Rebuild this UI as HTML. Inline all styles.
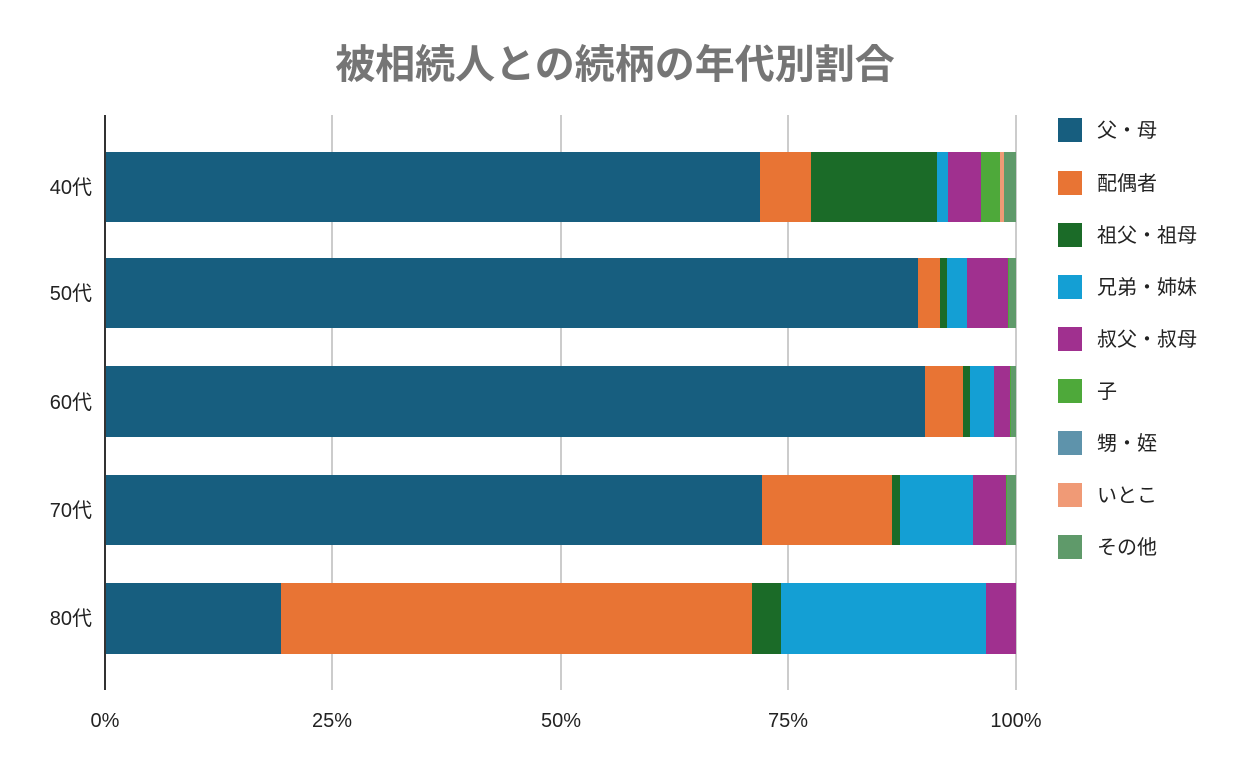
<!DOCTYPE html>
<html><head><meta charset="utf-8"><style>
body{margin:0;background:#fff;}
svg text{font-family:"Liberation Sans","Noto Sans CJK JP",sans-serif;}
</style></head><body>
<svg width="1250" height="773" xmlns="http://www.w3.org/2000/svg">
<rect width="1250" height="773" fill="#fff"/>
<text x="615" y="78" text-anchor="middle" font-size="40" font-weight="bold" fill="#757575">被相続人との続柄の年代別割合</text>
<g stroke="#cccccc" stroke-width="2">
<line x1="332" y1="115" x2="332" y2="690"/><line x1="561" y1="115" x2="561" y2="690"/>
<line x1="788" y1="115" x2="788" y2="690"/><line x1="1016" y1="115" x2="1016" y2="690"/>
</g>
<g id="bars">
<rect x="105" y="152" width="655" height="70" fill="#175e7f"/>
<rect x="760" y="152" width="51" height="70" fill="#e87434"/>
<rect x="811" y="152" width="126" height="70" fill="#1b6b28"/>
<rect x="937" y="152" width="11" height="70" fill="#149fd4"/>
<rect x="948" y="152" width="33" height="70" fill="#a0308f"/>
<rect x="981" y="152" width="19" height="70" fill="#4ea93a"/>
<rect x="1000" y="152" width="4" height="70" fill="#f09a76"/>
<rect x="1004" y="152" width="12" height="70" fill="#5f9a6a"/>
<rect x="105" y="258" width="813" height="70" fill="#175e7f"/>
<rect x="918" y="258" width="22" height="70" fill="#e87434"/>
<rect x="940" y="258" width="7" height="70" fill="#1b6b28"/>
<rect x="947" y="258" width="20" height="70" fill="#149fd4"/>
<rect x="967" y="258" width="41" height="70" fill="#a0308f"/>
<rect x="1008" y="258" width="1" height="70" fill="#4ea93a"/>
<rect x="1009" y="258" width="7" height="70" fill="#5f9a6a"/>
<rect x="105" y="366" width="820" height="71" fill="#175e7f"/>
<rect x="925" y="366" width="38" height="71" fill="#e87434"/>
<rect x="963" y="366" width="7" height="71" fill="#1b6b28"/>
<rect x="970" y="366" width="24" height="71" fill="#149fd4"/>
<rect x="994" y="366" width="16" height="71" fill="#a0308f"/>
<rect x="1010" y="366" width="1" height="71" fill="#4ea93a"/>
<rect x="1011" y="366" width="5" height="71" fill="#5f9a6a"/>
<rect x="105" y="475" width="657" height="70" fill="#175e7f"/>
<rect x="762" y="475" width="130" height="70" fill="#e87434"/>
<rect x="892" y="475" width="8" height="70" fill="#1b6b28"/>
<rect x="900" y="475" width="73" height="70" fill="#149fd4"/>
<rect x="973" y="475" width="33" height="70" fill="#a0308f"/>
<rect x="1006" y="475" width="1" height="70" fill="#4ea93a"/>
<rect x="1007" y="475" width="9" height="70" fill="#5f9a6a"/>
<rect x="105" y="583" width="176" height="71" fill="#175e7f"/>
<rect x="281" y="583" width="471" height="71" fill="#e87434"/>
<rect x="752" y="583" width="29" height="71" fill="#1b6b28"/>
<rect x="781" y="583" width="205" height="71" fill="#149fd4"/>
<rect x="986" y="583" width="30" height="71" fill="#a0308f"/>
</g>
<line x1="105" y1="115" x2="105" y2="690" stroke="#333" stroke-width="2"/>
<g font-size="20" fill="#222" text-anchor="end">
<text x="92" y="194">40代</text><text x="92" y="300">50代</text><text x="92" y="409">60代</text>
<text x="92" y="517">70代</text><text x="92" y="625">80代</text>
</g>
<g font-size="20" fill="#222" text-anchor="middle">
<text x="105" y="727">0%</text><text x="332" y="727">25%</text><text x="561" y="727">50%</text>
<text x="788" y="727">75%</text><text x="1016" y="727">100%</text>
</g>
<g font-size="20" fill="#222">
<rect x="1058" y="118" width="24" height="24" fill="#175e7f"/><text x="1097" y="137">父・母</text>
<rect x="1058" y="171" width="24" height="24" fill="#e87434"/><text x="1097" y="190">配偶者</text>
<rect x="1058" y="223" width="24" height="24" fill="#1b6b28"/><text x="1097" y="242">祖父・祖母</text>
<rect x="1058" y="275" width="24" height="24" fill="#149fd4"/><text x="1097" y="294">兄弟・姉妹</text>
<rect x="1058" y="327" width="24" height="24" fill="#a0308f"/><text x="1097" y="346">叔父・叔母</text>
<rect x="1058" y="379" width="24" height="24" fill="#4ea93a"/><text x="1097" y="398">子</text>
<rect x="1058" y="431" width="24" height="24" fill="#5e93ab"/><text x="1097" y="450">甥・姪</text>
<rect x="1058" y="483" width="24" height="24" fill="#f09a76"/><text x="1097" y="502">いとこ</text>
<rect x="1058" y="535" width="24" height="24" fill="#5f9a6a"/><text x="1097" y="554">その他</text>
</g>
</svg>
</body></html>
